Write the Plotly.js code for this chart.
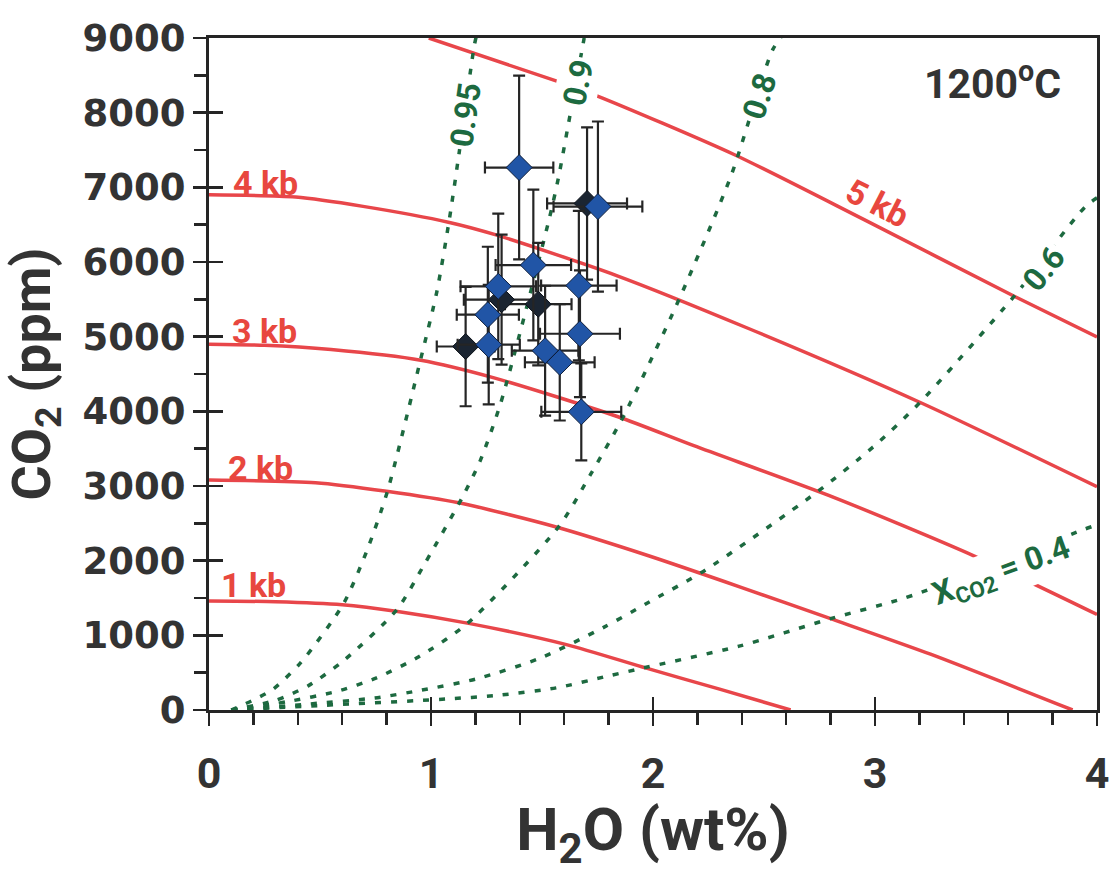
<!DOCTYPE html>
<html><head><meta charset="utf-8">
<script src="https://cdn.plot.ly/plotly-3.0.1.min.js"></script>
<style>html,body{margin:0;padding:0;background:#fff}</style>
</head><body><div id="chart" style="width:1113px;height:873px"></div>
<script>
// ---- Isobars (CO2 ppm vs H2O wt%) ----
const kb1X = [0, 0.3, 0.6, 0.85, 1.17, 1.61, 1.97, 2.3, 2.62];
const kb1Y = [1460, 1450, 1410, 1320, 1160, 876, 560, 280, 0];
const kb2X = [0, 0.48, 0.8, 1.125, 1.56, 1.98, 2.4, 2.8, 3.25, 3.89];
const kb2Y = [3080, 3045, 2930, 2775, 2454, 2066, 1640, 1223, 747, 0];
const kb3X = [0, 0.25, 0.55, 0.954, 1.284, 1.839, 2.184, 2.814, 3.445, 4.0];
const kb3Y = [4900, 4885, 4827, 4684, 4448, 3931, 3540, 2848, 2065, 1280];
const kb4X = [0, 0.39, 0.694, 1.083, 1.293, 1.833, 2.433, 3.214, 4.0];
const kb4Y = [6900, 6870, 6745, 6530, 6363, 5822, 5106, 4105, 2990];
const kb5X = [0.99, 1.57, 1.75, 2.365, 2.951, 3.627, 4.0];
const kb5Y = [9000, 8418, 8223, 7440, 6567, 5542, 4996];

// ---- Isopleths of X_CO2 ----
const x95X = [0.1, 0.207, 0.289, 0.415, 0.606, 0.709, 0.803, 0.954, 1.026, 1.083, 1.125, 1.195, 1.21];
const x95Y = [0, 144, 279, 640, 1424, 2117, 2921, 4705, 5598, 6578, 7426, 8897, 9100];
const x90X = [0.1, 0.3, 0.45, 0.609, 0.846, 0.978, 1.14, 1.221, 1.315, 1.53, 1.574, 1.616, 1.69];
const x90Y = [0, 130, 330, 668, 1343, 1992, 2842, 3334, 4120, 6547, 7127, 7800, 9000];
const x80X = [0.1, 0.35, 0.581, 0.752, 0.945, 1.161, 1.575, 1.722, 1.87, 2.117, 2.351, 2.54, 2.6];
const x80Y = [0, 110, 254, 427, 713, 1152, 2454, 3171, 3950, 5497, 7150, 8848, 9100];
const x60X = [0.1, 0.45, 0.745, 0.954, 1.208, 1.491, 1.78, 1.967, 2.235, 2.739, 2.991, 3.198, 3.627, 3.952, 4.05];
const x60Y = [0, 80, 160, 264, 419, 694, 1110, 1420, 1873, 2920, 3521, 4104, 5542, 6753, 6950];
const x40X = [0.1, 0.5, 1.074, 1.31, 1.564, 1.8, 1.94, 2.388, 2.8, 3.133, 3.5, 3.937, 4.05];
const x40Y = [0, 60, 148, 199, 296, 457, 552, 855, 1223, 1499, 1900, 2414, 2530];

// ---- Measured melt inclusions ----
const blueH2O    = [1.397, 1.752, 1.461, 1.303, 1.256, 1.666, 1.671, 1.26, 1.514, 1.58, 1.677];
const blueCO2    = [7265, 6742, 5959, 5674, 5294, 5684, 5039, 4893, 4812, 4657, 3993];
const blueH2OErr = [0.154, 0.2, 0.17, 0.17, 0.14, 0.17, 0.18, 0.14, 0.15, 0.157, 0.18];
const blueCO2Err = [1230, 1140, 1010, 975, 910, 1000, 850, 800, 870, 780, 650];
const blackH2O    = [1.703, 1.318, 1.483, 1.156];
const blackCO2    = [6784, 5496, 5435, 4868];
const blackH2OErr = [0.18, 0.17, 0.15, 0.13];
const blackCO2Err = [1020, 870, 820, 800];

// ---- Labels ----
const isobarLabels = ['1 kb', '2 kb', '3 kb', '4 kb', '5 kb'];
const isobarLabelX = [0.2, 0.23, 0.25, 0.255, 3.01];
const isobarLabelY = [1668, 3238, 5074, 7057, 6792];
const isobarLabelAngle = [0, 0, 0, 0, 27];
const isoplethLabels = ['0.95', '0.9', '0.8', '0.6', 'X<sub>CO2</sub> = 0.4'];
const isoplethLabelX = [1.157, 1.662, 2.482, 3.76, 3.573];
const isoplethLabelY = [7965, 8400, 8218, 5906, 1843];
const isoplethLabelAngle = [-82, -78, -72, -51, -20];
const xTickVals = [0, 1, 2, 3, 4];
const yTickVals = [0, 1000, 2000, 3000, 4000, 5000, 6000, 7000, 8000, 9000];

const RED = '#e8464a', REDTXT = '#e8473e', GREEN = '#1d6a40', AX = '#252525', TXT = '#333333';
const SANS = 'Roboto, Arial, sans-serif';

const traces = [];
[[kb1X,kb1Y],[kb2X,kb2Y],[kb3X,kb3Y],[kb4X,kb4Y],[kb5X,kb5Y]].forEach(function(p){
  traces.push({x:p[0], y:p[1], mode:'lines', line:{color:RED, width:3.5, shape:'spline', smoothing:0.7}, hoverinfo:'skip', showlegend:false});
});
[[x95X,x95Y],[x90X,x90Y],[x80X,x80Y],[x60X,x60Y],[x40X,x40Y]].forEach(function(p){
  traces.push({x:p[0], y:p[1], mode:'lines', line:{color:GREEN, width:3.5, dash:'6px,10px', shape:'spline', smoothing:0.7}, hoverinfo:'skip', showlegend:false});
});
traces.push({x:blackH2O, y:blackCO2, xaxis:'x2', yaxis:'y2', mode:'markers', showlegend:false,
  marker:{symbol:'diamond', size:20, color:'#1b2532', line:{color:'#0c1118', width:1}},
  error_x:{type:'data', array:blackH2OErr, visible:true, color:AX, thickness:2.2, width:6},
  error_y:{type:'data', array:blackCO2Err, visible:true, color:AX, thickness:2.2, width:6}});
traces.push({x:blueH2O, y:blueCO2, xaxis:'x2', yaxis:'y2', mode:'markers', showlegend:false,
  marker:{symbol:'diamond', size:20, color:'#2155a6', line:{color:'#0d1d3a', width:1}},
  error_x:{type:'data', array:blueH2OErr, visible:true, color:AX, thickness:2.2, width:6},
  error_y:{type:'data', array:blueCO2Err, visible:true, color:AX, thickness:2.2, width:6}});

const annotations = [];
isobarLabels.forEach(function(t,i){
  annotations.push({x:isobarLabelX[i], y:isobarLabelY[i], xref:'x', yref:'y', text:t, showarrow:false,
    textangle:isobarLabelAngle[i], font:{family:SANS, size:34, color:REDTXT, weight:'bold'}});
});
isoplethLabels.forEach(function(t,i){
  annotations.push({x:isoplethLabelX[i], y:isoplethLabelY[i], xref:'x', yref:'y', text:t, showarrow:false,
    textangle:isoplethLabelAngle[i], bgcolor:'#ffffff', borderpad:2,
    font:{family:SANS, size:32, color:GREEN, weight:'bold'}});
});
annotations.push({x:3.53, y:8423, xref:'x', yref:'y', text:'1200<sup>o</sup>C', showarrow:false,
  font:{family:SANS, size:41, color:TXT, weight:'bold'}});

const layout = {
  width:1113, height:873,
  margin:{l:209, r:16, t:38, b:163},
  paper_bgcolor:'#ffffff', plot_bgcolor:'#ffffff',
  showlegend:false,
  xaxis:{range:[0,4], tickvals:xTickVals, ticks:'outside', ticklen:13, tickwidth:2.5, tickcolor:AX,
    minor:{dtick:0.2, ticks:'outside', ticklen:12, tickwidth:2.5, tickcolor:AX, showgrid:false},
    showline:true, linewidth:3, linecolor:AX, mirror:true, showgrid:false, zeroline:false,
    ticklabelstandoff:10,
    tickfont:{family:SANS, size:43, color:TXT, weight:'bold'},
    title:{text:'H<sub>2</sub>O (wt%)', standoff:30, font:{family:SANS, size:60, color:TXT, weight:'bold'}}},
  yaxis:{range:[0,9000], tickvals:yTickVals, ticks:'outside', ticklen:13, tickwidth:2.5, tickcolor:AX,
    minor:{dtick:500, ticks:'outside', ticklen:12, tickwidth:2.5, tickcolor:AX, showgrid:false},
    showline:true, linewidth:3, linecolor:AX, mirror:true, showgrid:false, zeroline:false,
    tickfont:{family:'DejaVu Sans', size:37, color:TXT, weight:'bold'},
    title:{text:'CO<sub>2</sub> (ppm)', standoff:16, font:{family:SANS, size:54, color:TXT, weight:'bold'}}},
  xaxis2:{range:[0,4], overlaying:'x', anchor:'y2', tickvals:xTickVals, ticks:'inside', ticklen:13, tickwidth:2.5, tickcolor:AX,
    showticklabels:false, showline:false, showgrid:false, zeroline:false, side:'bottom'},
  yaxis2:{range:[0,9000], overlaying:'y', anchor:'x2', tickvals:yTickVals, ticks:'inside', ticklen:14, tickwidth:2.5, tickcolor:AX,
    showticklabels:false, showline:false, showgrid:false, zeroline:false, side:'left'},
  annotations:annotations
};
Plotly.newPlot('chart', traces, layout, {staticPlot:true, displayModeBar:false});
</script></body></html>
